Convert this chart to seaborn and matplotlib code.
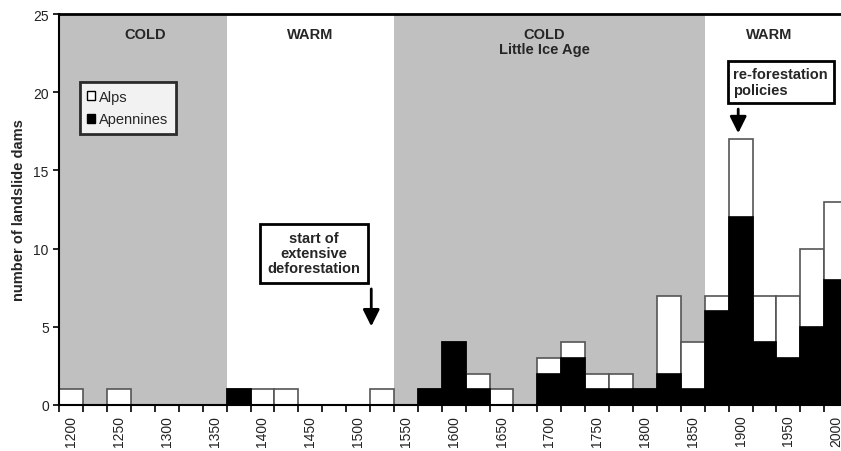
import numpy as np
import pandas as pd
import matplotlib
matplotlib.use("Agg")
import matplotlib.pyplot as plt
import seaborn as sns
from matplotlib.patches import Patch

# data: 25-year bins
years = list(range(1200, 2001, 25))
alps = [1, 0, 1, 0, 0, 0, 0, 0, 1, 1, 0, 0, 0, 1, 0, 0, 0,
        1, 1, 0, 1, 1, 1, 1, 0, 5, 3, 1, 5, 3, 4, 5, 5]
apennines = [0, 0, 0, 0, 0, 0, 0, 1, 0, 0, 0, 0, 0, 0, 0, 1, 4,
             1, 0, 0, 2, 3, 1, 1, 1, 2, 1, 6, 12, 4, 3, 5, 8]

# climate periods (bin index boundaries) and labels
period_edges = [-0.5, 6.5, 13.5, 26.5, 33]
period_shaded = [True, False, True, False]
period_labels = ["COLD", "WARM", "COLD\nLittle Ice Age", "WARM"]
period_label_x = [3.1, 10.0, 19.8, 29.2]

df = pd.DataFrame({"year": [str(y) for y in years],
                   "Alps": alps, "Apennines": apennines})
df["total"] = df["Alps"] + df["Apennines"]

sns.set_style("ticks")
plt.rcParams["font.family"] = ["Liberation Sans", "DejaVu Sans"]

fig = plt.figure(figsize=(8.41, 4.52), dpi=100)
ax = fig.add_axes([0.0705, 0.1018, 0.9295, 0.865])

# shaded cold periods
for i in range(len(period_shaded)):
    if period_shaded[i]:
        ax.axvspan(period_edges[i], period_edges[i + 1], color="#c0c0c0", lw=0, zorder=0)

# stacked bars: total (white = Alps part) then Apennines in black
sns.barplot(data=df, x="year", y="total", order=df["year"], color="white",
            edgecolor="#555555", linewidth=1.2, width=1.0, saturation=1, ax=ax, zorder=2)
sns.barplot(data=df, x="year", y="Apennines", order=df["year"], color="black",
            edgecolor="black", linewidth=1.2, width=1.0, saturation=1, ax=ax, zorder=3)

ax.set_xlim(-0.5, 32.2)
ax.set_ylim(0, 25)
ax.set_yticks(range(0, 26, 5))
ax.set_ylabel("number of landslide dams", fontsize=10.5, fontweight="bold", labelpad=5)
ax.set_xlabel("")

# ticks at bin boundaries, labels centred on every other bin
ax.set_xticks(np.arange(-0.5, 32, 1))
ax.set_xticklabels([])
ax.set_xticks(np.arange(0, len(years), 2), minor=True)
ax.set_xticklabels([str(y) for y in years[::2]], minor=True, rotation=90, fontsize=10, color="#222222")
ax.tick_params(axis="x", which="major", length=5, width=1.2, color="black", direction="out")
ax.tick_params(axis="x", which="minor", length=0, pad=7)
ax.tick_params(axis="y", length=4, width=1.2, color="black", labelsize=10, labelcolor="#222222")

for s in ["left", "bottom"]:
    ax.spines[s].set_color("black")
    ax.spines[s].set_linewidth(1.5)
ax.spines["top"].set_color("black")
ax.spines["top"].set_linewidth(2)
ax.spines["right"].set_visible(False)
for s in ax.spines.values():
    s.set_zorder(5)

# period labels
for lab, xpos in zip(period_labels, period_label_x):
    ax.text(xpos, 24.2, lab, ha="center", va="top", fontsize=10.5, fontweight="bold",
            linespacing=1.15, zorder=6)

# legend
handles = [Patch(facecolor="white", edgecolor="black", label="Alps"),
           Patch(facecolor="black", edgecolor="black", label="Apennines")]
leg = ax.legend(handles=handles, loc="upper left", bbox_to_anchor=(0.026, 0.825),
                fontsize=10.5, frameon=True, fancybox=False, handlelength=0.55,
                handleheight=0.55, handletextpad=0.3, borderpad=0.5, labelspacing=0.6,
                borderaxespad=0)
leg.get_frame().set_edgecolor("black")
leg.get_frame().set_linewidth(2)
leg.set_zorder(7)

# annotations
ax.text(10.15, 9.7, "start of\nextensive\ndeforestation", ha="center", va="center",
        fontsize=10.5, fontweight="bold", linespacing=1.1, zorder=7,
        bbox=dict(boxstyle="square,pad=0.5", fc="white", ec="black", lw=2))
ax.annotate("", xy=(12.55, 4.85), xytext=(12.55, 7.6),
            arrowprops=dict(arrowstyle="-|>,head_length=1.0,head_width=0.5",
                            color="black", lw=2), zorder=7)

ax.text(27.7, 20.65, "re-forestation\npolicies", ha="left", va="center",
        fontsize=10.5, fontweight="bold", linespacing=1.15, zorder=7,
        bbox=dict(boxstyle="square,pad=0.4", fc="white", ec="black", lw=2))
ax.annotate("", xy=(27.9, 17.2), xytext=(27.9, 19.1),
            arrowprops=dict(arrowstyle="-|>,head_length=1.0,head_width=0.5",
                            color="black", lw=2), zorder=7)

fig.savefig("out.png", dpi=100)
